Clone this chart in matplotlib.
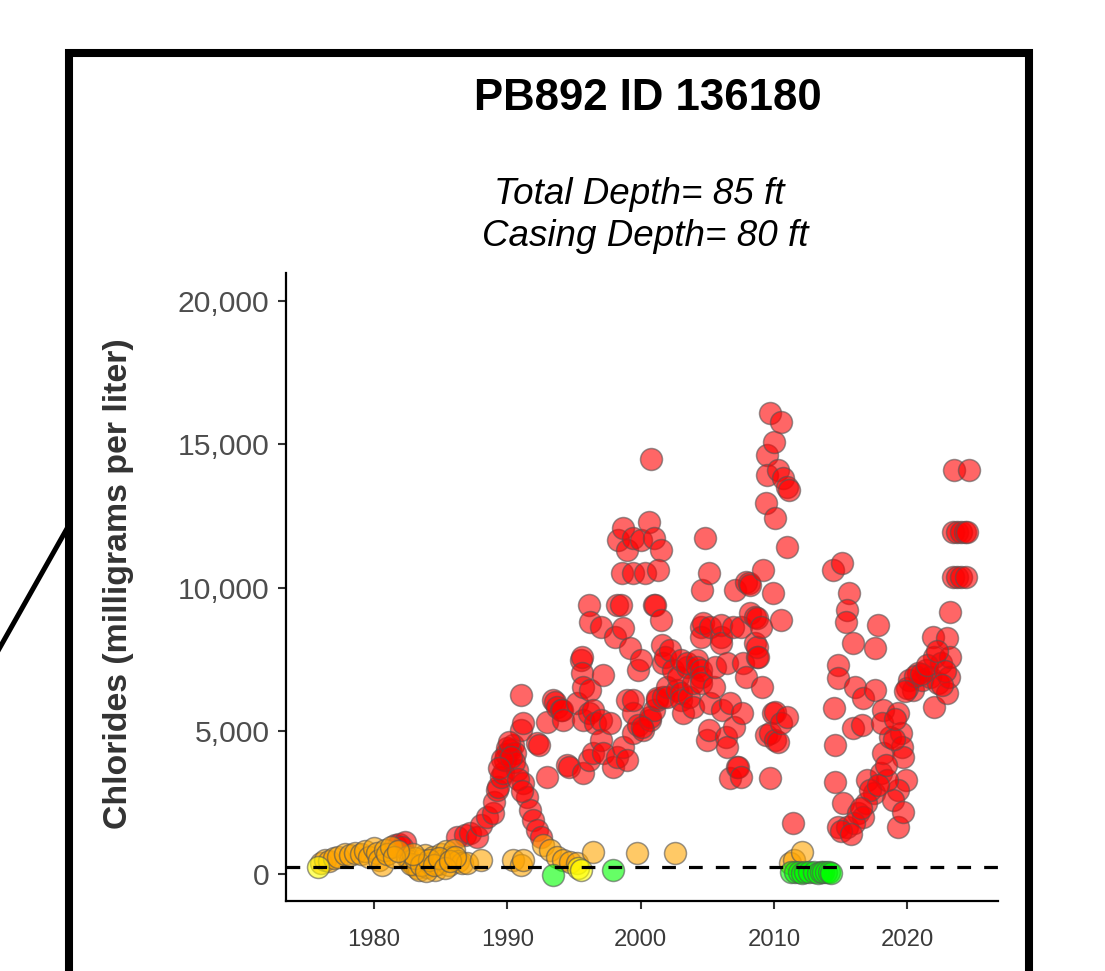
import matplotlib.pyplot as plt
from matplotlib.patches import Rectangle
from matplotlib.lines import Line2D
from matplotlib.ticker import FuncFormatter

plt.rcParams['font.family'] = ['Liberation Sans', 'DejaVu Sans']

# chloride samples, split by colour group
red_year = [1981.6, 1981.9, 1982.3, 1982.1,
            1986.2, 1986.8, 1987.2, 1987.7, 1988.0, 1988.5, 1988.9, 1989.0, 1989.2, 1989.3, 1989.5,
            1989.7, 1989.8, 1989.9, 1990.0, 1990.2, 1990.4, 1990.6, 1990.7, 1990.5, 1991.0, 1991.0,
            1991.2, 1991.2, 1991.5, 1991.7, 1991.9, 1992.2, 1992.5, 1992.2, 1992.4, 1993.0, 1993.0,
            1993.4, 1993.6, 1993.7, 1994.0, 1994.1, 1994.2, 1994.5, 1994.6, 1995.2, 1995.5, 1995.6,
            1995.6, 1995.7, 1995.7, 1995.7, 1996.1, 1996.1, 1996.1, 1996.2, 1996.2, 1996.4, 1996.6,
            1996.4, 1997.0, 1997.0, 1997.0, 1997.2, 1997.2, 1997.7, 1997.9, 1998.2, 1998.5, 1998.1,
            1998.7, 1998.2, 1998.7, 1999.0, 1999.2, 1999.0, 1999.4, 1999.4, 1999.4, 1999.8, 1999.8,
            2000.0, 2000.2, 2000.7, 2000.7, 2001.0, 2000.1,
            1989.6, 1990.1, 1990.3, 1989.4, 1990.8, 1991.1,
            1998.3, 1998.7, 1999.0, 1999.4, 2000.0, 2000.6, 2001.0, 2001.5, 1998.6, 1999.4, 2000.3,
            2001.3, 2001.0, 2001.1, 2000.8,
            2001.2, 2001.2, 2001.5, 2001.6, 2001.7, 2001.7, 2001.8, 2002.0, 2002.0, 2002.2, 2002.4,
            2002.7, 2002.8, 2003.0, 2003.0, 2003.0, 2003.2, 2003.5, 2003.5, 2003.6, 2003.9, 2003.9,
            2004.2, 2004.2, 2004.5, 2004.5, 2004.5, 2004.5, 2004.5, 2004.6, 2004.7, 2004.8, 2005.1,
            2005.2, 2005.0, 2005.1, 2005.2, 2005.5, 2005.6, 2006.0, 2006.0, 2006.0, 2006.1, 2006.4,
            2006.5, 2006.5, 2006.7, 2006.7, 2006.9, 2007.0, 2007.1, 2007.2, 2007.3, 2007.5, 2007.5,
            2007.6, 2007.7, 2007.9, 2007.9, 2008.1, 2008.2, 2008.2, 2008.6, 2008.6, 2008.7, 2008.7,
            2008.7, 2008.8, 2009.0, 2009.1, 2009.2, 2009.4, 2009.4, 2009.5, 2009.5, 2009.7, 2009.7,
            2009.7, 2009.9, 2009.9, 2010.0, 2010.1, 2010.1, 2010.1, 2010.3, 2010.3, 2010.5, 2010.5,
            2010.5, 2010.7, 2011.0, 2011.1, 2011.0, 2011.0, 2011.4,
            2014.4, 2015.1, 2015.6, 2015.5, 2015.4, 2015.9, 2017.8, 2017.6, 2014.8, 2014.8, 2016.1,
            2016.7, 2017.6, 2014.5, 2015.9, 2016.6, 2014.6, 2014.6, 2015.2, 2014.8, 2015.5, 2016.3,
            2017.0, 2018.0, 2017.5, 2018.2, 2018.7, 2018.2, 2018.1, 2019.3, 2019.5, 2019.6, 2019.7,
            2019.9, 2019.3, 2018.9, 2018.5, 2016.9, 2016.7, 2016.0, 2019.3, 2019.7, 2017.2, 2015.0,
            2015.8, 2016.5, 2017.8, 2018.4, 2019.0, 2019.1,
            2020.1, 2020.4, 2020.8, 2021.1, 2021.4, 2021.7, 2021.9, 2022.0, 2022.0, 2022.3, 2022.5,
            2023.0, 2023.0, 2023.1, 2023.2, 2023.2, 2023.5, 2024.6, 2023.4, 2023.7, 2024.0, 2024.3,
            2024.5, 2023.4, 2023.7, 2024.0, 2024.4, 2020.0, 2020.6, 2021.0, 2021.5, 2022.2, 2022.8,
            2019.8, 2022.6]
red_value = [1000, 1050, 1100, 950,
             1290, 1350, 1430, 1290, 1700, 2000, 2130, 2500, 2930, 3040, 3400,
             3530, 3980, 4200, 4400, 4330, 4500, 4220, 3630, 3900, 5030, 6250,
             3180, 5270, 2690, 2230, 1890, 1540, 1290, 4570, 4500, 3390, 5310,
             6080, 6010, 5830, 5730, 5730, 5380, 3810, 3740, 5970, 7470, 7580,
             7020, 6530, 5380, 3530, 5620, 3980, 9390, 8800, 6430, 5730, 5270,
             4220, 8630, 5380, 4680, 6950, 4220, 5270, 3740, 9390, 9390, 8280,
             8590, 4080, 4430, 3980, 7890, 6080, 5620, 6080, 4920, 5200, 7120,
             7470, 5030, 5380, 5480, 5730, 5130,
             4000, 4600, 4100, 3700, 3300, 2900,
             11660, 12080, 11310, 11730, 11660, 12290, 11730, 11310, 10510, 10510, 10510,
             10620, 9390, 9390, 14490,
             6080, 6150, 8870, 8000, 7370, 6180, 7580, 6530, 6180, 7820, 7120,
             6430, 6880, 7470, 6320, 6080, 5620, 7230, 7370, 6180, 6670, 5830,
             7470, 7230, 7120, 6880, 6670, 8630, 8280, 9920, 8770, 11730, 10510,
             8630, 4680, 5030, 5970, 6530, 7230, 8280, 8700, 8070, 5730, 4780,
             7370, 4430, 5970, 3350, 8630, 5130, 9920, 3740, 3740, 3390, 8630,
             5620, 7370, 6880, 10200, 10160, 10090, 9110, 8070, 8970, 8940, 7580,
             7930, 7580, 8630, 6530, 10620, 12950, 4850, 14630, 13930, 16100, 4920,
             3350, 9810, 5620, 15090, 12430, 5660, 4680, 14110, 4610, 15780, 8870,
             5270, 13830, 13510, 13410, 11420, 5480, 1780,
             10620, 10860, 9810, 9220, 8800, 8070, 8700, 7890, 7300, 6850, 6530,
             6150, 6430, 5800, 5100, 5200, 4500, 3210, 2480, 1640, 1640, 2130,
             3280, 3530, 2830, 4220, 4780, 5730, 5270, 5620, 4920, 4430, 4080,
             3280, 2930, 2580, 3280, 2480, 1990, 1780, 1640, 2160, 2930, 1500,
             1400, 2300, 3100, 3800, 4700, 5400,
             6770, 6430, 7020, 6770, 7120, 6880, 8280, 7580, 5830, 6670, 7370,
             8240, 6320, 6880, 7580, 9150, 14110, 14110, 11940, 11940, 11940, 11940,
             11940, 10370, 10370, 10370, 10370, 6500, 6900, 7000, 7300, 7800, 7100,
             6400, 6600]

orange_year = [1976.0, 1976.3, 1976.6, 1977.0, 1977.3, 1977.8, 1978.2, 1978.6, 1979.0, 1979.3,
               1979.6, 1980.0, 1980.2, 1980.4, 1980.6, 1980.8, 1981.0, 1981.3, 1982.5, 1982.7,
               1983.0, 1983.2, 1983.4, 1983.6, 1983.8, 1984.0, 1984.2, 1984.4, 1984.6, 1984.8,
               1985.0, 1985.2, 1985.4, 1985.6, 1985.8, 1986.0, 1986.3, 1986.6, 1987.0, 1988.0,
               1982.8, 1983.1, 1983.5, 1983.9, 1984.1, 1984.5, 1984.9, 1985.3, 1985.7, 1986.1,
               1982.9, 1981.5, 1981.8,
               1990.4, 1991.0, 1991.2, 1992.7, 1993.2, 1993.7, 1994.2, 1994.7, 1995.2, 1996.4,
               1999.7, 2002.6, 2011.2, 2011.5, 2012.1]
orange_value = [400, 500, 450, 550, 600, 700, 650, 750, 700, 800,
                600, 900, 750, 500, 300, 850, 700, 950, 600, 450,
                300, 200, 150, 500, 650, 250, 400, 600, 150, 350,
                700, 500, 800, 300, 600, 850, 450, 400, 400, 490,
                350, 550, 300, 100, 500, 300, 550, 200, 450, 600,
                700, 600, 800,
                490, 310, 490, 1000, 840, 600, 490, 420, 380, 770,
                730, 730, 380, 490, 770]

yellow_year = [1975.8, 1995.3, 1995.5]
yellow_value = [250, 200, 140]

green_year = [1993.4, 1997.9, 2011.3, 2011.6, 2011.9, 2012.1, 2012.3, 2012.6, 2013.0, 2013.3,
              2013.5, 2013.7, 2013.9, 2014.1, 2014.3]
green_value = [-30, 140, 70, 60, 70, 50, 60, 70, 60, 50, 70, 60, 70, 60, 50]

limit = 250
x_ticks = [1980, 1990, 2000, 2010, 2020]
y_ticks = [0, 5000, 10000, 15000, 20000]

fig = plt.figure(figsize=(11.05, 9.71), dpi=100)
ax = fig.add_axes([286 / 1105, 1 - 901 / 971, 712 / 1105, 628 / 971])

groups = [(red_year, red_value, '#FF0000'),
          (orange_year, orange_value, '#FFA500'),
          (yellow_year, yellow_value, '#FFFF00'),
          (green_year, green_value, '#00FF00')]
for xs, ys, col in groups:
    ax.scatter(xs, ys, s=250, c=col, edgecolors='#555555', linewidths=1.1, alpha=0.6, zorder=3)

ax.axhline(limit, color='black', lw=2.3, ls=(0, (4.3, 4.1)), zorder=4)

ax.set_xlim(1973.4, 2026.8)
ax.set_ylim(-943, 20987)
ax.set_xticks(x_ticks)
ax.set_yticks(y_ticks)
ax.yaxis.set_major_formatter(FuncFormatter(lambda v, p: f'{int(v):,}'))

for side in ['top', 'right']:
    ax.spines[side].set_visible(False)
for side in ['left', 'bottom']:
    ax.spines[side].set_linewidth(1.6)
ax.tick_params(axis='both', length=6, width=1.5, color='#333333')
ax.tick_params(axis='y', labelsize=21.7, labelcolor='#4d4d4d', pad=6)
ax.tick_params(axis='x', labelsize=17.2, labelcolor='#3a3a3a', pad=14)

fig.text(119 / 1105, 1 - 584 / 971, 'Chlorides (milligrams per liter)', rotation=90,
         ha='center', va='center', fontsize=24.4, fontweight='bold', color='#333333')
fig.text(648 / 1105, 1 - 99 / 971, 'PB892 ID 136180', ha='center', va='center',
         fontsize=31.5, fontweight='bold')
fig.text(639 / 1105, 1 - 195 / 971, 'Total Depth= 85 ft', ha='center', va='center',
         fontsize=26.5, style='italic')
fig.text(645 / 1105, 1 - 236 / 971, 'Casing Depth= 80 ft', ha='center', va='center',
         fontsize=26.5, style='italic')

# thick frame round the panel and the pointer line on the left
fig.add_artist(Rectangle((69 / 1105, -0.2), 960 / 1105, 1.2 - 53 / 971, fill=False,
                         lw=5.8, edgecolor='black', transform=fig.transFigure))
fig.add_artist(Line2D([-10 / 1105, 69 / 1105], [1 - 665 / 971, 1 - 525 / 971], lw=3.6,
                      color='black', transform=fig.transFigure))

fig.savefig('out.png', dpi=100)
